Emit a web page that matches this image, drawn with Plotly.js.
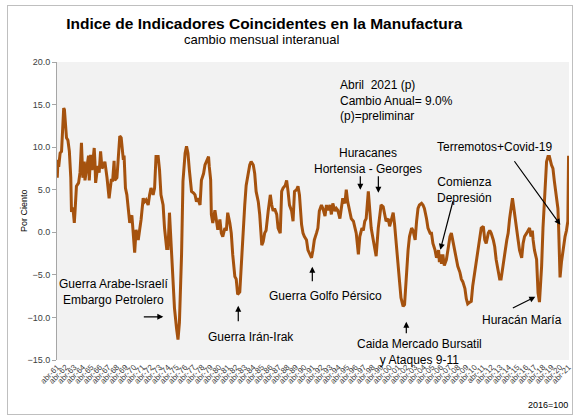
<!DOCTYPE html>
<html>
<head>
<meta charset="utf-8">
<script src="https://cdn.plot.ly/plotly-3.0.1.min.js"></script>
<style>
  html, body { margin: 0; padding: 0; background: #ffffff; }
  #chart { width: 577px; height: 420px; }
  #frame { position: absolute; left: 7px; top: 5px; width: 566px; height: 410px;
           border: 1px solid #bfbfbf; pointer-events: none; box-sizing: border-box; }
</style>
</head>
<body>
<div id="chart"></div>
<div id="frame"></div>
<script>
// ---- Data ----
const months = [
"1961-04","1961-05","1961-06","1961-08","1961-10","1962-01","1962-02","1962-04","1962-05","1962-07",
"1962-09","1962-11","1962-12","1963-02","1963-04","1963-05","1963-07","1963-10","1963-12","1964-01",
"1964-02","1964-04","1964-06","1964-07","1964-09","1964-12","1965-01","1965-03","1965-05","1965-08",
"1965-09","1965-10","1966-01","1966-03","1966-05","1966-07","1966-09","1966-11","1967-02","1967-04",
"1967-05","1967-08","1967-10","1967-12","1968-01","1968-04","1968-06","1968-08","1968-10","1969-01",
"1969-02","1969-04","1969-06","1969-08","1969-10","1970-01","1970-03","1970-05","1970-07","1970-10",
"1970-12","1971-02","1971-05","1971-07","1971-09","1971-12","1972-02","1972-04","1972-07","1972-09",
"1972-11","1973-02","1973-04","1973-06","1973-09","1973-11","1974-02","1974-04","1974-06","1974-09",
"1974-11","1975-01","1975-04","1975-06","1975-08","1975-11","1976-01","1976-04","1976-06","1976-08",
"1976-10","1977-01","1977-04","1977-06","1977-08","1977-10","1978-01","1978-03","1978-06","1978-08",
"1978-10","1979-01","1979-02","1979-04","1979-05","1979-07","1979-10","1979-12","1980-02","1980-05",
"1980-07","1980-09","1980-12","1981-02","1981-04","1981-07","1981-09","1981-11","1982-02","1982-04",
"1982-06","1982-09","1982-11","1983-01","1983-04","1983-06","1983-09","1983-11","1984-01","1984-04",
"1984-06","1984-08","1984-11","1985-01","1985-04","1985-06","1985-08","1985-10","1986-01","1986-04",
"1986-06","1986-08","1986-10","1987-01","1987-03","1987-06","1987-08","1987-10","1988-01","1988-03",
"1988-05","1988-07","1988-10","1988-12","1989-02","1989-05","1989-07","1989-09","1989-12","1990-02",
"1990-04","1990-07","1990-09","1990-11","1991-02","1991-04","1991-06","1991-09","1991-11","1992-01",
"1992-04","1992-06","1992-09","1992-11","1993-01","1993-04","1993-06","1993-08","1993-11","1994-01",
"1994-03","1994-06","1994-08","1994-10","1995-01","1995-03","1995-05","1995-08","1995-10","1996-01",
"1996-03","1996-05","1996-08","1996-10","1997-01","1997-03","1997-05","1997-07","1997-10","1997-12",
"1998-02","1998-05","1998-07","1998-09","1998-12","1999-02","1999-04","1999-07","1999-09","1999-11",
"2000-02","2000-04","2000-06","2000-09","2000-11","2001-01","2001-04","2001-06","2001-08","2001-11",
"2002-01","2002-03","2002-06","2002-08","2002-11","2003-01","2003-04","2003-06","2003-08","2003-10",
"2004-01","2004-03","2004-05","2004-08","2004-10","2005-01","2005-03","2005-05","2005-08","2005-10",
"2006-01","2006-02","2006-04","2006-05","2006-07","2006-09","2006-12","2007-02","2007-05","2007-07",
"2007-09","2007-12","2008-02","2008-04","2008-07","2008-09","2008-11","2009-02","2009-04","2009-06",
"2009-09","2009-11","2010-01","2010-04","2010-06","2010-08","2010-11","2011-01","2011-04","2011-06",
"2011-08","2011-11","2012-01","2012-03","2012-06","2012-08","2012-10","2013-01","2013-03","2013-05",
"2013-08","2013-10","2014-01","2014-03","2014-05","2014-07","2014-09","2014-11","2015-01","2015-03",
"2015-05","2015-07","2015-10","2015-12","2016-02","2016-05","2016-07","2016-09","2016-11","2017-01",
"2017-02","2017-04","2017-07","2017-09","2017-11","2018-02","2018-04","2018-06","2018-09","2018-11",
"2019-01","2019-04","2019-06","2019-08","2019-11","2020-01","2020-02","2020-04","2020-06","2020-08",
"2020-11","2021-01","2021-03","2021-04"
];
const cambioAnual = [
6.4,8.5,7.7,9.3,9.5,14.6,14.4,12.6,11.1,10.8,
9.5,6.4,2.4,2.9,1.1,2.4,5.4,5.8,7.0,8.7,
10.5,6.4,8.3,6.1,7.3,9.0,6.1,9.1,7.3,9.9,
8.3,5.8,7.8,7.0,9.5,7.5,7.8,8.3,6.4,5.2,
4.0,6.1,6.1,8.4,6.1,6.4,9.5,11.3,11.1,8.5,
9.0,5.2,4.4,2.3,1.1,2.0,-0.3,-2.4,0.3,-0.9,
0.3,1.5,4.0,3.6,3.8,3.2,4.4,5.2,4.4,5.2,
8.9,8.9,7.3,4.4,3.2,0.5,-1.9,-1.9,2.3,-1.9,
-5.8,-8.9,-11.3,-12.6,-10.6,-2.6,6.0,9.3,10.1,9.3,
7.3,4.8,4.6,4.4,3.6,4.0,3.2,6.1,6.9,7.9,
8.3,8.9,7.7,6.2,2.1,1.1,2.6,1.6,0.3,1.5,
-0.1,-0.5,0.5,0.2,2.3,1.1,-0.1,-2.6,-5.2,-5.5,
-7.3,-7.0,-3.9,-0.1,3.2,5.5,6.9,7.9,8.3,7.9,
6.9,4.8,3.6,2.1,-1.5,-1.1,-0.1,0.2,2.5,4.4,
3.2,2.5,2.8,2.1,0.5,-0.1,4.8,5.2,5.5,6.1,
4.8,3.2,2.5,1.3,4.8,5.0,5.4,4.4,0.9,-0.1,
-0.5,-0.9,-2.1,-2.4,-3.0,-2.1,-0.9,-0.1,0.5,2.5,
3.2,2.8,1.9,3.2,2.6,3.2,2.1,3.4,2.5,2.8,
2.6,1.6,3.2,4.0,3.4,5.0,3.6,2.1,1.6,1.3,
0.5,-0.1,-2.6,-0.5,0.5,0.2,1.3,1.6,4.8,2.1,
0.5,-0.9,-1.7,-2.8,0.5,2.1,3.2,3.0,2.3,1.3,
1.6,0.7,1.3,2.3,0.9,-1.3,-3.4,-5.8,-7.7,-8.7,
-8.5,-5.8,-2.1,-0.5,0.5,0.2,-0.9,1.3,2.8,3.2,
3.4,3.2,2.8,1.6,0.5,-0.1,-0.1,-1.3,-2.1,-3.0,
-2.1,-3.5,-2.6,-3.7,-2.6,-3.9,-3.2,-2.1,-0.5,-0.1,
-0.9,-2.1,-3.2,-4.0,-4.7,-5.5,-5.8,-6.6,-7.8,-8.4,
-8.2,-8.1,-6.3,-4.7,-3.2,-2.1,-0.9,0.5,0.7,-0.9,
-1.3,-0.1,0.2,-0.1,-0.9,-1.7,-3.2,-4.7,-5.5,-5.5,
-4.0,-2.6,-0.9,-0.1,1.6,3.2,4.0,2.8,1.3,0.5,
-0.9,-2.1,-3.0,-1.3,-0.5,-0.1,0.2,0.5,-0.5,0.2,
-0.9,-2.1,-3.2,-7.1,-8.2,-4.0,0.5,4.4,8.3,8.9,
8.9,7.9,7.5,6.0,4.4,2.8,0.5,-5.3,-3.5,-2.1,
-0.5,0.2,1.3,9.0
];
const tickLabels = [
"abr-61","abr-62","abr-63","abr-64","abr-65","abr-66","abr-67","abr-68","abr-69","abr-70",
"abr-71","abr-72","abr-73","abr-74","abr-75","abr-76","abr-77","abr-78","abr-79","abr-80",
"abr-81","abr-82","abr-83","abr-84","abr-85","abr-86","abr-87","abr-88","abr-89","abr-90",
"abr-91","abr-92","abr-93","abr-94","abr-95","abr-96","abr-97","abr-98","abr-99","abr-00",
"abr-01","abr-02","abr-03","abr-04","abr-05","abr-06","abr-07","abr-08","abr-09","abr-10",
"abr-11","abr-12","abr-13","abr-14","abr-15","abr-16","abr-17","abr-18","abr-19","abr-20",
"abr-21"
];
const tickDates = tickLabels.map(function (l, i) { return (1961 + i) + "-04-01"; });
const yTicks = [-15, -10, -5, 0, 5, 10, 15, 20];

const FONT = "Liberation Sans, Arial, sans-serif";
const LINE = "#A5520E";
const GRAY = "#a6a6a6";

const trace = {
  type: "scatter", mode: "lines",
  x: months, y: cambioAnual,
  line: { color: LINE, width: 3 },
  hoverinfo: "x+y", showlegend: false
};

function txt(x, y, text) {
  return { x: x, y: y, xref: "x", yref: "y", text: text, showarrow: false,
           xanchor: "center", yanchor: "middle",
           font: { family: FONT, size: 12, color: "#000" } };
}
function arrow(x, y, ax, ay) {
  return { x: x, y: y, ax: ax, ay: ay, xref: "x", yref: "y", axref: "x", ayref: "y",
           text: "", showarrow: true, arrowhead: 2, arrowsize: 1, arrowwidth: 1.2,
           arrowcolor: "#000", standoff: 0, startstandoff: 0 };
}

const annotations = [
  { xref: "paper", yref: "paper", x: 0.400, y: 1.075, text: "cambio mensual interanual",
    showarrow: false, xanchor: "center", yanchor: "middle",
    font: { family: FONT, size: 13, color: "#000" } },
  { xref: "paper", yref: "paper", x: 0, xshift: -33, y: 0.5, textangle: -90,
    text: "Por Ciento", showarrow: false, xanchor: "center", yanchor: "middle",
    font: { family: FONT, size: 9, color: "#000" } },
  { x: "1994-03-25", y: 18.3, xref: "x", yref: "y", xanchor: "left", yanchor: "top", align: "left",
    text: "Abril  2021 (p)<br>Cambio Anual= 9.0%<br>(p)=preliminar", showarrow: false,
    font: { family: FONT, size: 12, color: "#000" } },
  txt("2012-07-15", 10.05, "Terremotos+Covid-19"),
  txt("2009-01-08", 4.99, "Comienza<br>Depresión"),
  txt("1997-10-01", 8.40, "Huracanes<br>Hortensia - Georges"),
  txt("1967-10-26", -6.99, "Guerra Arabe-Israelí<br>Embargo Petrolero"),
  txt("1984-01-08", -12.28, "Guerra Irán-Irak"),
  txt("1992-09-15", -7.46, "Guerra Golfo Pérsico"),
  txt("2003-09-27", -14.04, "Caida Mercado Bursatil<br>y Ataques 9-11"),
  txt("2015-10-30", -10.28, "Huracán María"),
  arrow("1973-09-10", -9.93, "1971-03-25", -9.93),
  arrow("1982-06-28", -8.64, "1982-06-28", -10.63),
  arrow("1991-03-07", -4.05, "1991-03-07", -5.93),
  arrow("2002-03-17", -10.52, "2002-03-17", -12.04),
  arrow("2017-05-07", -7.58, "2014-07-15", -8.99),
  arrow("1996-10-22", 4.99, "1996-10-22", 6.76),
  arrow("1998-12-05", 4.64, "1998-12-05", 6.76),
  arrow("2006-03-14", -2.06, "2007-09-24", 3.82),
  arrow("2020-04-15", 0.88, "2014-10-08", 8.52),
  { xref: "paper", yref: "paper", x: 0.959, y: -0.151, text: "2016=100", showarrow: false,
    xanchor: "center", yanchor: "middle", font: { family: FONT, size: 9, color: "#000" } }
];

const xRange = ["1961-03-20", "2021-04-20"];

const layout = {
  width: 577, height: 420,
  margin: { l: 57, r: 8, t: 62, b: 60 },
  paper_bgcolor: "#ffffff",
  plot_bgcolor: "#f2f2f2",
  font: { family: FONT, color: "#404040" },
  title: {
    text: "<b>Indice de Indicadores Coincidentes en la Manufactura</b>",
    font: { family: FONT, size: 15.5, color: "#000" },
    x: 0.458, xanchor: "center", xref: "container",
    y: 0.945, yanchor: "middle", yref: "container"
  },
  xaxis: {
    type: "date", range: xRange,
    tickmode: "array", tickvals: tickDates, ticktext: tickLabels,
    tickangle: -45, tickfont: { family: FONT, size: 8, color: "#404040" },
    ticks: "", showgrid: false, zeroline: false, showline: false
  },
  xaxis2: {
    type: "date", range: xRange, overlaying: "x", anchor: "free",
    position: 15 / 35,
    tickmode: "array", tickvals: tickDates,
    ticks: "outside", ticklen: 3, tickcolor: GRAY, tickwidth: 1,
    showticklabels: false, showgrid: false, zeroline: false,
    showline: true, linecolor: GRAY, linewidth: 1.5
  },
  yaxis: {
    range: [-15, 20], tickmode: "array", tickvals: yTicks, tickformat: ".1f",
    tickfont: { family: FONT, size: 9, color: "#404040" },
    ticks: "outside", ticklen: 4, tickcolor: GRAY,
    showline: true, linecolor: GRAY, linewidth: 1,
    showgrid: false, zeroline: false
  },
  annotations: annotations
};

Plotly.newPlot("chart", [trace], layout, { displayModeBar: false, staticPlot: true });
</script>
</body>
</html>
